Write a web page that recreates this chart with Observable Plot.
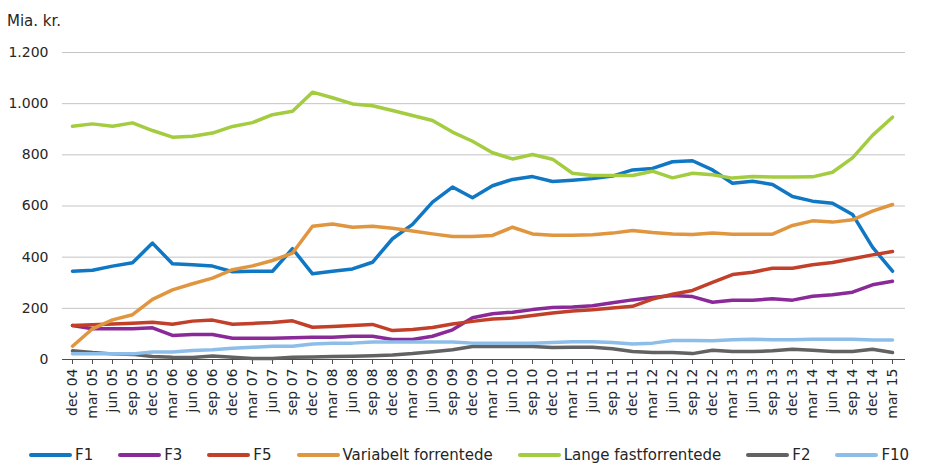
<!DOCTYPE html>
<html>
<head>
<meta charset="utf-8">
<script src="https://cdn.jsdelivr.net/npm/d3@7"></script>
<script src="https://cdn.jsdelivr.net/npm/@observablehq/plot@0.6"></script>
<style>
  html, body { margin: 0; padding: 0; background: #fff; }
  body { font-family: "DejaVu Sans", Verdana, sans-serif; color: #262626; }
  #wrap { position: relative; width: 940px; height: 473px; }
  #title { position: absolute; left: 7px; top: 12px; font-size: 15px; }
  #chart { position: absolute; left: 0; top: 0; }
  #legend { position: absolute; left: 29px; top: 446px; display: flex; gap: 25px; font-size: 15px; align-items: center; }
  .item { display: flex; align-items: center; gap: 3px; }
  .sw { width: 43px; height: 4px; border-radius: 2px; }
</style>
</head>
<body>
<div id="wrap">
  <div id="chart"></div>
  <div id="title">Mia. kr.</div>
  <div id="legend"></div>
</div>
<script>
const quarters = ["dec 04","mar 05","jun 05","sep 05","dec 05","mar 06","jun 06","sep 06","dec 06","mar 07","jun 07","sep 07","dec 07","mar 08","jun 08","sep 08","dec 08","mar 09","jun 09","sep 09","dec 09","mar 10","jun 10","sep 10","dec 10","mar 11","jun 11","sep 11","dec 11","mar 12","jun 12","sep 12","dec 12","mar 13","jun 13","sep 13","dec 13","mar 14","jun 14","sep 14","dec 14","mar 15"];

const seriesNames = ["F1","F3","F5","Variabelt forrentede","Lange fastforrentede","F2","F10"];
const seriesColors = ["#0f77c4","#8a2a98","#c2402a","#e0953f","#a3cc40","#626262","#8dbee9"];

const F1 = [345,349,365,378,455,374,370,365,343,345,345,433,335,345,354,380,472,528,615,674,632,679,704,715,696,701,707,717,741,747,773,777,741,689,697,684,637,619,611,567,439,345];
const F3 = [133,120,120,120,124,94,98,98,83,83,83,85,87,87,91,91,78,78,91,116,163,179,185,195,203,205,210,222,233,242,250,246,224,232,232,237,232,247,253,263,292,306];
const F5 = [133,136,139,142,146,138,150,154,138,141,145,151,126,129,133,137,113,117,125,139,149,158,162,172,182,190,194,201,208,236,255,270,301,332,341,357,357,370,379,394,409,422];
const Variabelt = [52,120,155,175,235,272,296,318,351,366,387,416,521,530,517,521,513,502,491,481,481,485,517,491,486,486,488,494,504,496,491,489,494,490,490,490,524,542,537,546,580,606];
const Lange = [912,921,912,925,895,869,873,885,911,926,957,970,1045,1023,999,992,973,954,934,889,853,808,784,801,783,728,719,719,719,736,710,728,722,709,715,713,713,714,732,788,876,947];
const F2 = [34,27,22,20,12,9,8,14,9,4,4,9,10,12,13,15,18,23,30,38,51,51,51,51,47,48,48,42,31,27,27,23,36,31,31,34,40,36,31,31,40,27];
const F10 = [22,22,22,22,29,29,35,38,44,48,52,52,61,64,64,68,68,68,68,68,64,64,64,64,66,69,69,66,61,64,74,74,73,77,79,77,77,79,79,79,76,76];

const yTicks = [0,200,400,600,800,1000,1200];

const allSeries = [F1, F3, F5, Variabelt, Lange, F2, F10];
const rows = [];
allSeries.forEach((vals, s) => {
  vals.forEach((v, i) => rows.push({series: seriesNames[s], date: quarters[i], value: v}));
});

const fmt = d => d3.format(",")(d).replace(/,/g, ".");

const chart = Plot.plot({
  width: 940,
  height: 440,
  marginLeft: 62,
  marginRight: 35,
  marginTop: 52,
  marginBottom: 81,
  style: {fontFamily: "DejaVu Sans, Verdana, sans-serif", fontSize: "14px", color: "#262626", background: "transparent"},
  x: {type: "point", domain: quarters, padding: 0, insetLeft: 1, insetRight: 5},
  y: {domain: [0, 1200]},
  color: {domain: seriesNames, range: seriesColors},
  marks: [
    Plot.gridY(yTicks, {stroke: "#c4c4c4", strokeOpacity: 1, strokeWidth: 1}),
    Plot.axisY(yTicks, {tickSize: 0, tickPadding: 14, tickFormat: fmt, fontSize: 14, label: null, fill: "#262626"}),
    Plot.ruleY([0], {stroke: "#4d4d4d", strokeWidth: 1.2}),
    Plot.axisX({tickSize: 5, tickPadding: 4, tickRotate: -90, fontSize: 14, label: null, stroke: "#4d4d4d", fill: "#262626"}),
    Plot.line(rows, {x: "date", y: "value", z: "series", stroke: "series", strokeWidth: 3.5, strokeLinejoin: "round", strokeLinecap: "round"})
  ]
});
document.getElementById("chart").appendChild(chart);

const legend = document.getElementById("legend");
seriesNames.forEach((name, i) => {
  const item = document.createElement("div");
  item.className = "item";
  const sw = document.createElement("div");
  sw.className = "sw";
  sw.style.background = seriesColors[i];
  const t = document.createElement("span");
  t.textContent = name;
  item.appendChild(sw);
  item.appendChild(t);
  legend.appendChild(item);
});
</script>
</body>
</html>
